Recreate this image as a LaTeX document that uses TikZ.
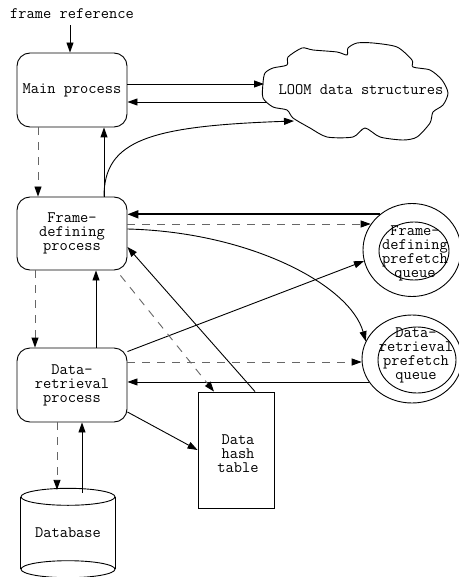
\documentclass[tikz,border=0pt]{standalone}
\usepackage{fontspec}
\usetikzlibrary{arrows.meta,shapes.geometric}
\begin{document}
\begin{tikzpicture}[x=1pt,y=-1pt,
  every node/.style={font=\fontsize{16}{14}\selectfont\ttfamily, inner sep=0pt, align=center},
  ln/.style={line width=0.9pt, black},
  tip/.style={-{Triangle[length=10pt,width=7pt,color=black]}},
  arr/.style={ln, tip},
  darr/.style={line width=0.9pt, black!60, dash pattern=on 8pt off 7pt, tip},
  proc/.style={draw, ln, rounded corners=13pt, minimum width=110pt},
  ring/.style={draw, ln, ellipse, inner sep=0pt}]
\useasboundingbox (0,0) rectangle (458,577);

% processes
\node (fref) at (72,14) {frame reference};
\node[proc, minimum height=74pt] (main) at (72,90) {Main process};
\node[proc, minimum height=73pt] (fdp) at (72,233.5) {Frame-\\defining\\process};
\node[proc, minimum height=74pt] (drp) at (72,385) {Data-\\retrieval\\process};

% hash table
\node[draw, ln, minimum width=76pt, minimum height=116pt] (hash) at (236,450) {};
\node (hashtxt) at (238,454) {Data\\hash\\table};

% database cylinder
\node[minimum width=94pt, minimum height=72pt] (db) at (68,533) {Database};
\draw[ln] (db.north west) -- (db.south west);
\draw[ln] (db.north east) -- (db.south east);
\draw[ln] (db.north) ellipse [x radius=47pt, y radius=8.5pt];
\draw[ln] (db.south) ellipse [x radius=47pt, y radius=8.5pt];

% prefetch queues: outer ring, inner ring, label
\node[ring, minimum width=98pt, minimum height=93pt] (fdpqo) at (412,250) {};
\node[ring, minimum width=70pt, minimum height=58pt] (fdpqi) at (414,251) {};
\node (fdpqtxt) at (415,253) {Frame-\\defining\\prefetch\\queue};
\node[ring, minimum width=100pt, minimum height=88pt] (drpqo) at (412,359) {};
\node[ring, minimum width=78pt, minimum height=66pt] (drpqi) at (417,360) {};
\node (drpqtxt) at (416,355) {Data-\\retrieval\\prefetch\\queue};

% LOOM cloud
\draw[ln] plot[smooth cycle, tension=0.45] coordinates {
  (263,83) (265,73) (273,68) (287,65) (288,57) (302,48) (313,50) (337,52)
  (347,55) (348,48) (357,43) (373,43) (397,47) (412,60) (413,67) (430,70)
  (442,80) (448,93) (443,105) (433,112) (430,123) (417,137) (403,140)
  (380,137) (365,128) (353,137) (327,137) (310,128) (293,118) (287,110)
  (273,107) (263,98)};
\node (loom) at (361,90) {LOOM data structures};
\coordinate (cin) at (264,84);
\coordinate (cout) at (267,102);
\coordinate (ccurve) at (294,121);

% connectors
\draw[arr] ([xshift=-2pt,yshift=-6pt]fref.south) -- ([xshift=-2pt]main.north);
\draw[arr] ([yshift=6pt]main.east) -- (cin);
\draw[arr] (cout) -- ([yshift=-12pt]main.east);
\draw[darr] ([xshift=-34pt]main.south) -- ([xshift=-34pt]fdp.north);
\draw[arr] ([xshift=32pt]fdp.north) -- ([xshift=32pt]main.south);
\draw[arr] ([xshift=32pt]fdp.north) .. controls (104,140) and (150,126) .. (ccurve);

\draw[darr] ([xshift=-37pt]fdp.south) -- ([xshift=-37pt]drp.north);
\draw[arr] ([xshift=24pt]drp.north) -- ([xshift=24pt]fdp.south);

\draw[ln, line width=1.8pt, -{Triangle[length=11pt,width=8pt]}] (fdpqo.132) -- (fdpqo.132 -| fdp.east);
\draw[darr] ([yshift=9.5pt]fdp.east) -- ([yshift=9.5pt]fdp.east -| fdpqo.148);
\draw[arr] ([yshift=4.5pt]fdp.east) .. controls (250,232) and (350,285) .. (drpqo.159);
\draw[arr] ([yshift=-4pt]drp.north east) -- (fdpqo.193);

\draw[darr] ([yshift=23pt]drp.east) -- ([yshift=23pt]drp.east -| drpqo.184);
\draw[arr] (drpqo.208) -- (drpqo.208 -| drp.east);

\draw[darr] ([xshift=-7pt,yshift=-5pt]fdp.south east) -- ([xshift=-22pt]hash.north);
\draw[arr] ([xshift=19pt]hash.north) -- ([yshift=-13.5pt]fdp.east);
\draw[arr] ([yshift=-27pt]drp.east) -- (hash.west);

\draw[darr] ([xshift=-15pt]drp.south) -- ([xshift=-11pt,yshift=7pt]db.north);
\draw[arr] ([xshift=14pt,yshift=4pt]db.north) -- ([xshift=10pt]drp.south);
\end{tikzpicture}
\end{document}
